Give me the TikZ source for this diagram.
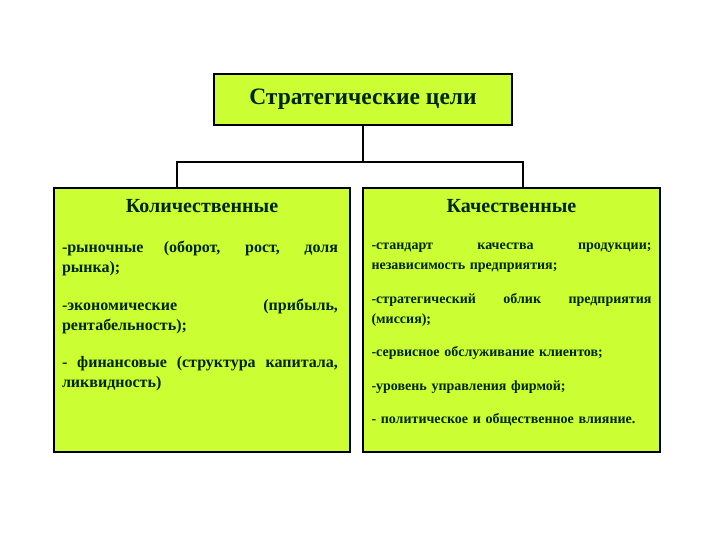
\documentclass[tikz,border=0pt]{standalone}
\usepackage{fontspec}
\setmainfont{Liberation Serif}
\usepackage{xcolor}
\usepackage{tikz}
\usetikzlibrary{positioning}
\definecolor{cLime}{RGB}{204,255,51}
\definecolor{cInk}{RGB}{0,38,0}
\newcommand{\jline}[2]{\hbox to #1{\spaceskip=.25em plus 1fil\strut#2}\\}
\tikzset{
	goalbox/.style ={rectangle, draw=black, line width=1.2pt, fill=cLime, minimum width=298pt, minimum height=51pt, text=cInk, font=\fontsize{23.5}{26}\selectfont\bfseries},
	groupbox/.style={rectangle, draw=black, line width=1.2pt, fill=cLime, minimum width=296pt, minimum height=264pt},
	grouphead/.style={inner sep=0pt, text=cInk, font=\fontsize{20}{22}\selectfont\bfseries},
	leftitem/.style={inner sep=0pt, text width=276pt, align=left, text=cInk, font=\fontsize{16}{20}\selectfont\bfseries},
	rightitem/.style={inner sep=0pt, text width=280pt, align=left, text=cInk, font=\fontsize{14}{20}\selectfont\bfseries},
	link/.style    ={line width=1.2pt},
}
\begin{document}
\begin{tikzpicture}[x=1pt, y=-1pt]
	\useasboundingbox (0,0) rectangle (720,540);
	\node[goalbox] (goal) at (363,99.5) {Стратегические цели};
	\node[groupbox] (quant) at (202,320) {};
	\node[groupbox, minimum width=297pt] (qual) at (511.5,320) {};
	% connectors
	\coordinate (fork) at (363,162);
	\coordinate (forkl) at (177,162);
	\coordinate (forkr) at (523,162);
	\coordinate (inl) at (177,188);
	\coordinate (inr) at (523,188);
	\draw[link] (goal.south) -- (fork);
	\draw[link] (inl) -- (forkl) -- (forkr) -- (inr);
	% quantitative goals
	\node[grouphead, below=11.5pt of quant.north] (qnh) {Количественные};
	\node[leftitem, below=26pt of qnh, xshift=-2pt] (qn1) {\jline{276pt}{-рыночные (оборот, рост, доля}рынка);\strut};
	\node[leftitem, below=17pt of qn1] (qn2) {\jline{276pt}{-экономические (прибыль,}рентабельность);\strut};
	\node[leftitem, below=17pt of qn2] (qn3) {\jline{276pt}{- финансовые (структура капитала,}ликвидность)\strut};
	% qualitative goals
	\node[grouphead, below=11.5pt of qual.north] (qlh) {Качественные};
	\node[rightitem, below=22.5pt of qlh] (ql1) {\jline{280pt}{-стандарт качества продукции;}независимость предприятия;\strut};
	\node[rightitem, below=14pt of ql1] (ql2) {\jline{280pt}{-стратегический облик предприятия}(миссия);\strut};
	\node[rightitem, below=12pt of ql2] (ql3) {-сервисное обслуживание клиентов;\strut};
	\node[rightitem, below=14pt of ql3] (ql4) {-уровень управления фирмой;\strut};
	\node[rightitem, below=13pt of ql4] (ql5) {- политическое и общественное влияние.\strut};
\end{tikzpicture}
\end{document}
